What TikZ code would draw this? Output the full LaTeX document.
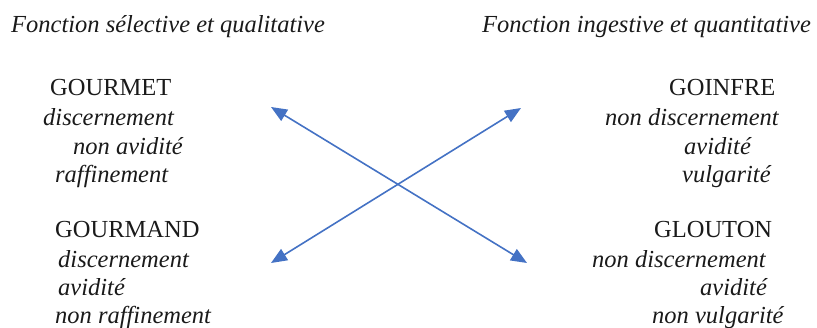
\documentclass[tikz,border=0pt]{standalone}
\usepackage{fontspec}
\setmainfont{Liberation Serif}
\usetikzlibrary{arrows.meta}
\definecolor{arrowblue}{HTML}{4472C4}
\definecolor{txt}{HTML}{1A1A1A}
\tikzset{
  lbl/.style={inner sep=0pt, anchor=west, text=txt, font=\fontsize{24.5}{29}\selectfont\itshape, text height=0.68em, text depth=0.2em},
  ttl/.style={inner sep=0pt, anchor=west, text=txt, font=\fontsize{24.5}{29}\selectfont, text height=0.68em, text depth=0.2em},
  cross/.style={draw=arrowblue, line width=1.6pt, {Triangle[length=16pt,width=13pt]}-{Triangle[length=16pt,width=13pt]}}
}
\begin{document}
\begin{tikzpicture}[x=1pt,y=-1pt]
\useasboundingbox (0,0) rectangle (817,328);
% headings
\node[lbl] (h1) at (11,30) {Fonction sélective et qualitative};
\node[lbl] (h2) at (482,30) {Fonction ingestive et quantitative};
% GOURMET
\node[ttl] (gourmet) at (50,93) {GOURMET};
\node[lbl] (gt1) at (43,123) {discernement};
\node[lbl] (gt2) at (73,152) {non avidité};
\node[lbl] (gt3) at (55,180) {raffinement};
% GOINFRE
\node[ttl] (goinfre) at (669,93) {GOINFRE};
\node[lbl] (gf1) at (605,123) {non discernement};
\node[lbl] (gf2) at (684,152) {avidité};
\node[lbl] (gf3) at (682,180) {vulgarité};
% GOURMAND
\node[ttl] (gourmand) at (55,235) {GOURMAND};
\node[lbl] (gd1) at (58,265) {discernement};
\node[lbl] (gd2) at (58,293) {avidité};
\node[lbl] (gd3) at (55,321) {non raffinement};
% GLOUTON
\node[ttl] (glouton) at (654,235) {GLOUTON};
\node[lbl] (gl1) at (592,265) {non discernement};
\node[lbl] (gl2) at (700,293) {avidité};
\node[lbl] (gl3) at (652,321) {non vulgarité};
% arrows
\coordinate (tl) at (271,107);
\coordinate (tr) at (521,108);
\coordinate (bl) at (271,263);
\coordinate (br) at (527,263);
\draw[cross] (tl) -- (br);
\draw[cross] (bl) -- (tr);
\end{tikzpicture}
\end{document}
